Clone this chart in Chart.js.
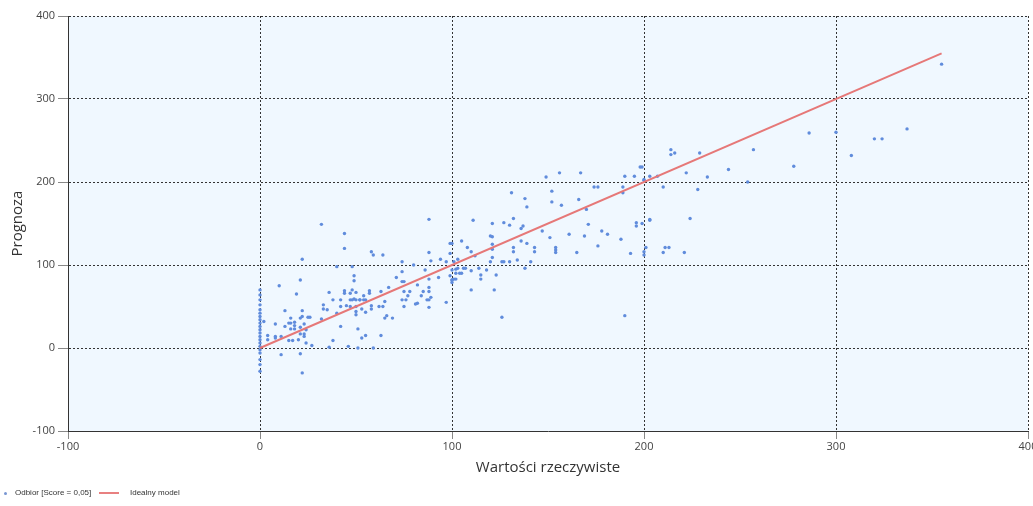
<!DOCTYPE html>
<html>
<head>
<meta charset="utf-8">
<title>Prognoza vs wartości rzeczywiste</title>
<script src="https://cdn.jsdelivr.net/npm/chart.js@4.4.0/dist/chart.umd.min.js"></script>
<style>
    html, body { margin: 0; padding: 0; background: #fff; overflow: hidden; width: 1033px; height: 506px; }
    #wrap { position: relative; width: 1045px; height: 506px; }
    #legend { position: absolute; left: 0; top: 486px; width: 300px; height: 14px; font: 8px 'Liberation Sans', Arial, sans-serif; color: #333; }
    #legend span { position: absolute; top: 0; line-height: 14px; white-space: nowrap; }
    .dot { width: 3px; height: 3px; border-radius: 50%; background: rgb(120,150,210); margin-top: 6px; }
    .swatch { width: 20px; height: 2px; background: rgb(232,128,128); margin-top: 6px; }
</style>
</head>
<body>
<div id="wrap">
    <canvas id="chart" width="1045" height="506"></canvas>
    <div id="legend">
        <span class="dot" style="left:4px"></span>
        <span style="left:15px">Odbior [Score = 0,05]</span>
        <span class="swatch" style="left:99px"></span>
        <span style="left:130px">Idealny model</span>
    </div>
</div>
<script>
// Wartości rzeczywiste (oś X) i prognoza (oś Y)
const actualValues = [
    0, 0, 0, 0, 0, 0, 0, 0, 0, 0, 0, 0, 0, 0, 0, 0, 0, 0, 0, 0, 0,
    32, 44, 44, 22, 40, 21, 10, 19, 36, 44, 44, 49, 49, 13, 22, 22, 21, 16, 25, 26,
    33, 32, 35, 33, 38, 42, 40, 45, 47, 50, 50, 50, 2, 8, 15, 16, 18, 18, 13, 16,
    18, 21, 23, 24, 4, 8, 8, 11, 4, 15, 17, 20, 23, 21, 23, 24, 27, 11, 21, 22,
    36, 38, 42, 46, 42, 47, 49, 52, 47, 50,
    88, 99, 100, 99, 58, 59, 64, 74, 88, 89, 94, 97, 48, 48, 54, 57, 57, 63, 67, 74,
    74, 75, 71, 74, 76, 75, 78, 77, 75, 80, 82, 81, 82, 84, 85, 88, 86, 87, 88, 89,
    88, 88, 88, 93, 97, 99, 100, 100, 102, 102, 102, 48, 50, 52, 54, 55, 53, 55, 58, 58,
    62, 64, 65, 65, 66, 69, 51, 53, 55, 63, 51, 59,
    149, 131, 138, 139, 111, 121, 127, 132, 130, 136, 137, 147, 105, 108, 110, 112, 103, 120, 121, 121,
    121, 132, 132, 136, 139, 143, 143, 121, 120, 126, 127, 130, 134, 141, 138, 101, 103, 106, 107, 110,
    114, 118, 100, 100, 101, 104, 105, 115, 115, 123, 110, 122, 126,
    156, 167, 174, 176, 152, 152, 157, 166, 170, 171, 189, 189, 190, 195, 198, 200, 196, 196, 199, 203,
    151, 161, 169, 178, 181, 188, 176, 154, 154, 154, 165, 193, 200, 200, 201, 190,
    355, 337, 320, 324, 308, 300, 286, 278, 257, 244, 233, 229, 214, 214, 216, 222, 228, 254, 210, 203,
    207, 199, 200, 224, 203, 211, 213, 210, 221
];
const predictedValues = [
    70, 64, 58, 52, 46, 42, 38, 34, 30, 26, 22, 18, 14, 10, 6, 2, -2, -6, -14, -20, -28,
    149, 138, 120, 107, 98, 82, 75, 65, 67, 69, 66, 87, 81, 45, 45, 38, 36, 36, 37, 37,
    47, 35, 46, 52, 58, 50, 42, 51, 50, 50, 44, 40, 32, 29, 30, 30, 31, 27, 26, 23,
    23, 25, 29, 22, 15, 14, 12, 14, 10, 9, 9, 10, 14, 17, 17, 6, 3, -8, -7, -30,
    1, 9, 26, 2, 58, 58, 59, 58, 66, 67,
    155, 126, 126, 114, 116, 112, 112, 104, 115, 105, 107, 104, 98, 70, 63, 69, 66, 68, 73, 92,
    80, 80, 85, 58, 58, 68, 68, 63, 50, 100, 54, 53, 76, 63, 68, 68, 94, 58, 58, 61,
    83, 73, 49, 85, 55, 87, 82, 79, 95, 90, 83, 58, 58, 58, 58, 58, 47, 43, 51, 47,
    50, 50, 56, 36, 39, 36, 23, 12, 15, 15, 0, 0,
    206, 187, 180, 170, 154, 150, 151, 156, 148, 144, 147, 141, 129, 121, 116, 111, 107, 135, 134, 125,
    119, 121, 116, 129, 126, 121, 116, 109, 104, 104, 104, 104, 106, 104, 96, 104, 96, 96, 96, 93,
    96, 94, 94, 82, 83, 90, 90, 88, 83, 88, 70, 70, 37,
    211, 211, 194, 194, 189, 176, 172, 179, 167, 149, 194, 187, 207, 207, 218, 203, 151, 147, 150, 155,
    133, 137, 135, 141, 137, 131, 123, 121, 118, 115, 115, 114, 116, 112, 121, 39,
    342, 264, 252, 252, 232, 260, 259, 219, 239, 215, 206, 235, 239, 233, 235, 211, 191, 200, 194, 207,
    207, 218, 202, 156, 154, 121, 121, 115, 115
];

// Linia idealnego modelu (prognoza = wartość rzeczywista)
const idealX = [0, 355];
const idealY = [0, 355];

// Podziałki osi
const xTicks = [-100, 0, 100, 200, 300, 400];
const yTicks = [-100, 0, 100, 200, 300, 400];

const plotBackground = {
    id: 'plotBackground',
    beforeDraw(chart) {
        const { ctx, chartArea } = chart;
        ctx.save();
        ctx.fillStyle = '#f0f8ff';
        ctx.fillRect(chartArea.left, chartArea.top, chartArea.width, chartArea.height);
        ctx.restore();
    }
};

function axisOptions(ticks, title, horizontal) {
    return {
        type: 'linear',
        min: ticks[0],
        max: ticks[ticks.length - 1],
        ticks: {
            stepSize: ticks[1] - ticks[0],
            color: '#444',
            padding: horizontal ? 1 : 3,
            font: { family: "'Open Sans', sans-serif", size: 11 }
        },
        grid: {
            color: '#333',
            lineWidth: 1,
            tickColor: '#888',
            tickLength: horizontal ? 8 : 10
        },
        border: {
            color: '#333',
            width: 1,
            dash: [2, 2]
        },
        title: {
            display: true,
            text: title,
            color: '#333',
            font: { family: "'Open Sans', sans-serif", size: 15 },
            padding: horizontal ? { top: 0, bottom: 4 } : { top: 9, bottom: 0 }
        },
        afterFit(scale) {
            if (horizontal) {
                scale.height = 50;
            } else {
                scale.width = 68;
            }
        }
    };
}

const ctx = document.getElementById('chart').getContext('2d');

new Chart(ctx, {
    type: 'scatter',
    data: {
        datasets: [{
            label: 'Odbior [Score = 0,05]',
            data: actualValues.map((x, i) => ({ x: x, y: predictedValues[i] })),
            pointRadius: 1.7,
            pointBorderWidth: 0,
            pointBackgroundColor: 'rgb(96,140,220)',
            order: 2
        }, {
            label: 'Idealny model',
            data: idealX.map((x, i) => ({ x: x, y: idealY[i] })),
            showLine: true,
            borderColor: 'rgb(230,120,120)',
            borderWidth: 2,
            pointRadius: 0,
            order: 1
        }]
    },
    options: {
        responsive: false,
        animation: false,
        devicePixelRatio: 1,
        layout: {
            padding: { left: 0, top: 16, right: 17, bottom: 25 }
        },
        plugins: {
            legend: { display: false },
            tooltip: { enabled: false }
        },
        scales: {
            x: axisOptions(xTicks, 'Wartości rzeczywiste', true),
            y: axisOptions(yTicks, 'Prognoza', false)
        }
    },
    plugins: [plotBackground]
});
</script>
</body>
</html>
